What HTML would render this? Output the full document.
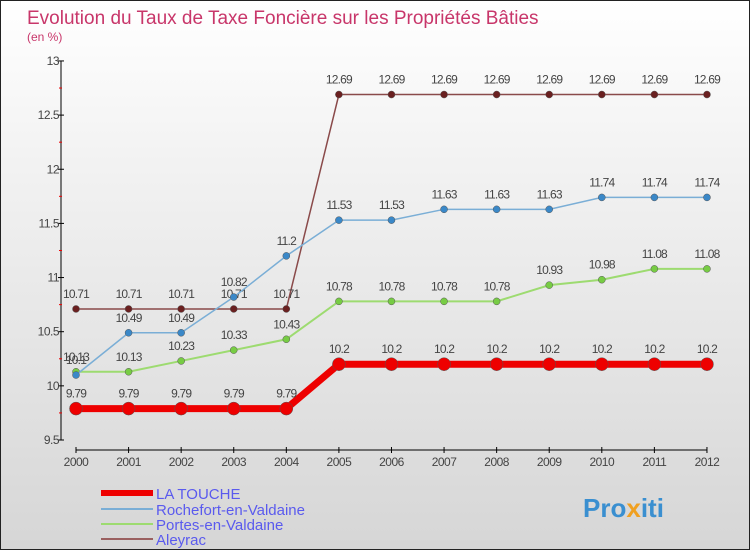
<!DOCTYPE html>
<html><head><meta charset="utf-8"><style>
body{margin:0;width:750px;height:550px;overflow:hidden;font-family:"Liberation Sans",sans-serif}
#c{position:absolute;left:0;top:0;width:748px;height:548px;border:1px solid #222;background:linear-gradient(#fff,#f2f2f2 30%,#d6d6d6)}
</style></head><body>
<div id="c">
<svg id="s" width="750" height="550">
<text x="26" y="23" font-size="19" fill="#c8366a">Evolution du Taux de Taxe Foncière sur les Propriétés Bâties</text>
<text x="26" y="40" font-size="12" fill="#c8366a">(en %)</text>
<g id="axes"></g><g id="series"></g>
<g>
<line x1="100" y1="492" x2="152" y2="492" stroke="#e00" stroke-width="6"/>
<text x="155" y="498" font-size="15" fill="#5a5aee">LA TOUCHE</text>
<line x1="100" y1="508" x2="152" y2="508" stroke="#7aaed6" stroke-width="2"/>
<text x="155" y="514" font-size="15" fill="#5a5aee">Rochefort-en-Valdaine</text>
<line x1="100" y1="523" x2="152" y2="523" stroke="#9ddb70" stroke-width="2"/>
<text x="155" y="529" font-size="15" fill="#5a5aee">Portes-en-Valdaine</text>
<line x1="100" y1="538" x2="152" y2="538" stroke="#9a6060" stroke-width="2"/>
<text x="155" y="544" font-size="15" fill="#5a5aee">Aleyrac</text>
</g>
<text x="582" y="516" font-size="26" font-weight="bold" fill="#3a8fd0">Pro<tspan fill="#f0a020">x</tspan>iti</text>
</svg></div>
<script>
const years=[2000,2001,2002,2003,2004,2005,2006,2007,2008,2009,2010,2011,2012];
const yTicks=[9.5,10,10.5,11,11.5,12,12.5,13];
const laTouche=[9.79,9.79,9.79,9.79,9.79,10.2,10.2,10.2,10.2,10.2,10.2,10.2,10.2];
const rochefort=[10.1,10.49,10.49,10.82,11.2,11.53,11.53,11.63,11.63,11.63,11.74,11.74,11.74];
const portes=[10.13,10.13,10.23,10.33,10.43,10.78,10.78,10.78,10.78,10.93,10.98,11.08,11.08];
const aleyrac=[10.71,10.71,10.71,10.71,10.71,12.69,12.69,12.69,12.69,12.69,12.69,12.69,12.69];
const NS="http://www.w3.org/2000/svg";
function X(i){return 75+i*52.58;}
function Y(v){return 439-(v-9.5)*108.3;}
function mk(t,a,p){const e=document.createElementNS(NS,t);for(const k in a)e.setAttribute(k,a[k]);p.appendChild(e);return e;}
const ax=document.getElementById('axes');
let l=mk('line',{x1:60,y1:Y(13),x2:60,y2:Y(9.5),stroke:'#000'},ax);


yTicks.forEach(v=>{mk('line',{x1:57,y1:Y(v),x2:63,y2:Y(v),stroke:'#000'},ax);
 if(v<13)mk('line',{x1:58,y1:Y(v+0.25),x2:61,y2:Y(v+0.25),stroke:'#e00'},ax);
 const t=mk('text',{x:58,y:Y(v)+4,'font-size':12,fill:'#444','text-anchor':'end','letter-spacing':'-0.5'},ax);t.textContent=v;
 
 });
l=mk('line',{x1:X(0),y1:449,x2:X(12),y2:449,stroke:'#000'},ax);


years.forEach((y,i)=>{mk('line',{x1:X(i),y1:446,x2:X(i),y2:452,stroke:'#000'},ax);
 const t=mk('text',{x:X(i),y:465,'font-size':12,fill:'#444','text-anchor':'middle','letter-spacing':'-0.5'},ax);t.textContent=y;
 
 });
const sg=document.getElementById('series');
function draw(name,d,col,w,r,dot){const g=mk('g',{},sg);
 
 
 mk('polyline',{points:d.map((v,i)=>X(i)+','+Y(v)).join(' '),fill:'none',stroke:col,'stroke-width':w},g);
 d.forEach((v,i)=>{const c=mk('circle',{cx:X(i),cy:Y(v),r:r,fill:dot,stroke:'#555','stroke-width':0.5},g);
  
  
  const t=mk('text',{x:X(i),y:Y(v)-11,'font-size':12,fill:'#444','text-anchor':'middle','letter-spacing':'-0.8'},g);t.textContent=v;});}
draw('series-aleyrac',aleyrac,'#8a4a4a',1.5,3.5,'#6a2020');
draw('series-portes',portes,'#9ddb70',2,3.5,'#77cc44');
draw('series-rochefort',rochefort,'#7aaed6',1.5,3.5,'#3a88c8');
draw('series-la-touche',laTouche,'#e00',7,6.5,'#e00');
</script>
</body></html>
